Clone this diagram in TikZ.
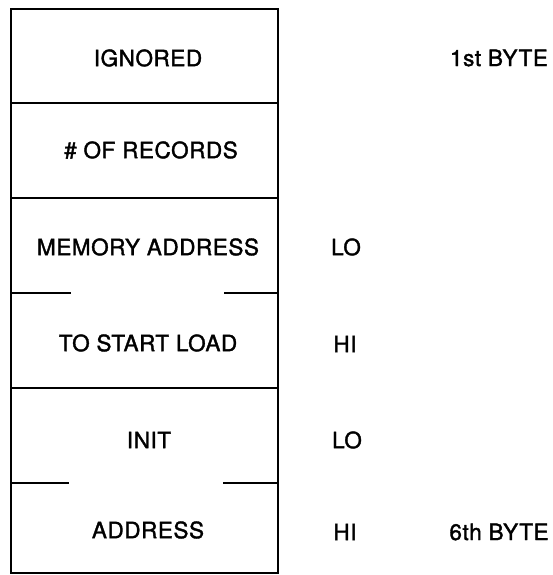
\documentclass[tikz,border=0pt]{standalone}
\usepackage{fontspec}
\setmainfont{TeX Gyre Heros}
\newfontfamily\lblfont[FakeBold=1.6,LetterSpace=2.5]{TeX Gyre Heros}
\begin{document}
\begin{tikzpicture}[x=1pt,y=-1pt,
  lbl/.style={font=\lblfont\fontsize{22.5}{26}\selectfont, inner sep=0pt, anchor=center},
  outer/.style={line width=2.8pt, line join=miter},
  divider/.style={line width=1.8pt}]
\useasboundingbox (0,0) rectangle (553,575);
% outer box
\draw[outer] (11,9) rectangle (278,573);
% full dividers
\coordinate (d1l) at (11,103); \coordinate (d1r) at (278,103);
\coordinate (d2l) at (11,198); \coordinate (d2r) at (278,198);
\coordinate (d3l) at (11,388); \coordinate (d3r) at (278,388);
\draw[divider] (d1l) -- (d1r);
\draw[divider] (d2l) -- (d2r);
\draw[divider] (d3l) -- (d3r);
% partial dividers
\coordinate (p1a) at (11,293); \coordinate (p1b) at (71,293);
\coordinate (p1c) at (224,293); \coordinate (p1d) at (278,293);
\coordinate (p2a) at (11,483); \coordinate (p2b) at (69,483);
\coordinate (p2c) at (223,483); \coordinate (p2d) at (278,483);
\draw[divider] (p1a) -- (p1b);
\draw[divider] (p1c) -- (p1d);
\draw[divider] (p2a) -- (p2b);
\draw[divider] (p2c) -- (p2d);
% box texts
\node[lbl] (ign) at (148,58) {IGNORED};
\node[lbl] (rec) at (151,150) {\# OF RECORDS};
\node[lbl] (mem) at (148,247) {MEMORY ADDRESS};
\node[lbl] (tsl) at (148,343) {TO START LOAD};
\node[lbl] (init) at (149,440) {INIT};
\node[lbl] (addr) at (148,530) {ADDRESS};
% side labels
\node[lbl] (lo1) at (346,247) {LO};
\node[lbl] (hi1) at (345,344) {HI};
\node[lbl] (lo2) at (347,440) {LO};
\node[lbl] (hi2) at (345,532) {HI};
\node[lbl] (b1) at (499,58) {1st BYTE};
\node[lbl] (b6) at (499,532) {6th BYTE};
\end{tikzpicture}
\end{document}
